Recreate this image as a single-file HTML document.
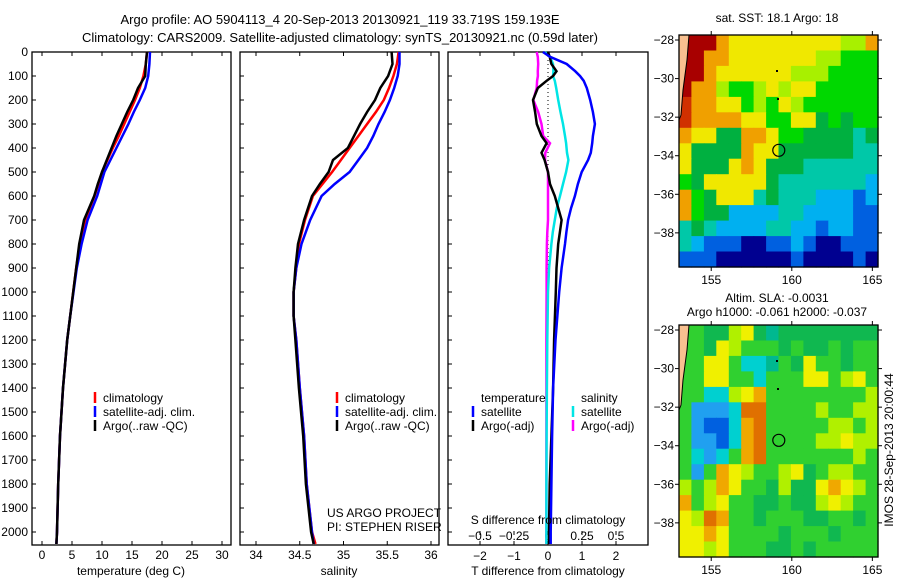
<!DOCTYPE html>
<html><head><meta charset="utf-8"><style>
html,body{margin:0;padding:0;background:#fff}
svg{display:block;font-family:"Liberation Sans",sans-serif;font-size:12px}
</style></head><body>
<svg id="fig" width="900" height="580" viewBox="0 0 900 580">
<text x="340" y="24" text-anchor="middle" font-size="13">Argo profile: AO 5904113_4 20-Sep-2013 20130921_119 33.719S 159.193E</text>
<text x="340" y="42" text-anchor="middle" font-size="13">Climatology: CARS2009. Satellite-adjusted climatology: synTS_20130921.nc (0.59d later)</text>
<g id="p1"></g>
<g id="p2"></g>
<g id="p3"></g>
<g id="m1"></g>
<g id="m2"></g>
<text x="777" y="22" text-anchor="middle">sat. SST: 18.1 Argo: 18</text>
<text x="777" y="302" text-anchor="middle">Altim. SLA: -0.0031</text>
<text x="777" y="316" text-anchor="middle">Argo h1000: -0.061 h2000: -0.037</text>
<text transform="translate(893,450) rotate(-90)" text-anchor="middle">IMOS 28-Sep-2013 20:00:44</text>
</svg>
<script>
const depths=[0,50,100,150,200,250,300,350,400,450,500,550,600,700,800,900,1000,1100,1200,1400,1600,1800,2000,2050];
const tClim=[17.5,17.3,16.9,16.3,15.5,14.6,13.7,12.8,11.8,10.9,10.0,9.4,8.75,7.2,6.3,5.7,5.2,4.7,4.2,3.5,3.0,2.7,2.5,2.4];
const tSat=[18.0,17.9,17.7,17.2,16.3,15.3,14.4,13.4,12.4,11.4,10.4,9.8,9.2,7.6,6.6,5.8,5.25,4.7,4.2,3.5,3.0,2.7,2.5,2.4];
const tArgo=[17.5,17.3,17.2,16.0,15.2,14.2,13.3,12.4,11.6,10.8,10.0,9.3,8.7,7.0,6.2,5.7,5.2,4.7,4.2,3.5,3.0,2.7,2.5,2.4];
const sClim=[35.63,35.61,35.57,35.52,35.46,35.37,35.27,35.17,35.07,34.97,34.87,34.76,34.65,34.56,34.49,34.46,34.43,34.43,34.46,34.5,34.55,34.58,34.64,34.68];
const sSat=[35.64,35.64,35.62,35.58,35.53,35.47,35.4,35.34,35.27,35.17,35.07,34.9,34.75,34.62,34.52,34.46,34.43,34.43,34.46,34.5,34.55,34.58,34.64,34.66];
const sArgo=[35.55,35.56,35.51,35.42,35.36,35.27,35.19,35.12,35.05,34.88,34.83,34.73,34.64,34.55,34.48,34.45,34.43,34.43,34.45,34.49,34.54,34.57,34.63,34.66];
const dDepths=[0,20,50,80,100,120,150,200,250,300,350,380,420,450,500,550,600,650,700,750,800,900,1000,1200,1400,1600,1800,2000,2050];
const dTSat=[-0.15,0.06,0.55,0.8,0.94,1.05,1.14,1.24,1.32,1.38,1.32,1.3,1.26,1.18,0.99,0.88,0.79,0.68,0.59,0.54,0.5,0.4,0.33,0.22,0.15,0.12,0.1,0.08,0.08];
const dTArgo=[0,0.05,0.1,0.25,0.15,-0.04,-0.3,-0.44,-0.38,-0.33,-0.19,-0.04,-0.19,-0.1,0,0.06,0.2,0.3,0.4,0.35,0.3,0.25,0.23,0.18,0.15,0.1,0.05,0.03,0.03];
const dSSat=[-0.022,0.015,0.037,0.04,0.037,0.05,0.06,0.075,0.092,0.11,0.125,0.133,0.14,0.15,0.133,0.11,0.088,0.065,0.05,0.035,0.025,0.008,0,-0.005,-0.008,-0.01,-0.012,-0.012,-0.012];
const dSArgo=[-0.083,-0.075,-0.072,-0.075,-0.074,-0.08,-0.083,-0.108,-0.072,-0.048,-0.035,0.015,-0.02,-0.022,0,0,0,0,0,-0.005,-0.008,-0.01,-0.01,-0.012,-0.012,-0.012,-0.012,-0.012,-0.012];
const depthTicks=[0,100,200,300,400,500,600,700,800,900,1000,1100,1200,1300,1400,1500,1600,1700,1800,1900,2000];
const tTicks=[0,5,10,15,20,25,30];
const sTicks=[34,34.5,35,35.5,36];
const sTickLabels=["34","34.5","35","35.5","36"];
const dTTicks=[-2,-1,0,1,2];
const dSTicks=[-0.5,-0.25,0,0.25,0.5];
const dSTickLabels=["\u22120.5","\u22120.25","0","0.25","0.5"];
const lonTicks=[155,160,165];
const latTicks=[-28,-30,-32,-34,-36,-38];
const argoLon=159.193, argoLat=-33.719;

const NS="http://www.w3.org/2000/svg";
function mk(parent,tag,attrs,text){const e=document.createElementNS(NS,tag);for(const k in attrs)e.setAttribute(k,attrs[k]);if(text!==undefined)e.textContent=text;parent.appendChild(e);return e;}
const Y0=52,Y1=545;
const yD=d=>52+d*0.24;
function lin(d0,d1,r0,r1){return v=>r0+(v-d0)*(r1-r0)/(d1-d0);}
function frame(g,x0,x1,name){
  const r=mk(g,'rect',{x:x0,y:Y0,width:x1-x0,height:Y1-Y0,fill:'none',stroke:'#000','stroke-width':1.3});
  
  
  depthTicks.forEach(d=>{mk(g,'line',{x1:x0,x2:x0+4,y1:yD(d),y2:yD(d),stroke:'#000'});});
}
function xticks(g,ticks,labels,sx,ly,name){
  ticks.forEach((t,i)=>{const x=sx(t);
    mk(g,'line',{x1:x,x2:x,y1:Y1,y2:Y1-4,stroke:'#000'});
    mk(g,'line',{x1:x,x2:x,y1:Y0,y2:Y0+4,stroke:'#000'});
    const tx=mk(g,'text',{x:x,y:ly,'text-anchor':'middle'},labels[i]);
    
    
  });
}
function line(g,xs,ys,sx,color,name,w){
  const pts=xs.map((v,i)=>sx(v).toFixed(1)+','+yD(ys[i]).toFixed(1)).join(' ');
  const p=mk(g,'polyline',{points:pts,fill:'none',stroke:color,'stroke-width':w||2.5});
  
  
}
function legend(g,x,y,color,label,name){
  mk(g,'line',{x1:x,x2:x,y1:y-10,y2:y+1,stroke:color,'stroke-width':2.5});
  const t=mk(g,'text',{x:x+8,y:y},label);
  
  
}
// Panel 1
const p1=document.getElementById('p1');
const sxT=lin(0,30,42,222);
frame(p1,32,231,'temperature');
depthTicks.forEach(d=>{const t=mk(p1,'text',{x:28,y:yD(d)+4,'text-anchor':'end'},String(d));
  
  });
xticks(p1,tTicks,tTicks.map(String),sxT,559,'temperature');
line(p1,tClim,depths,sxT,'#ff0000','temperature-climatology-line');
line(p1,tSat,depths,sxT,'#0000ff','temperature-satellite-line');
line(p1,tArgo,depths,sxT,'#000000','temperature-argo-line');
legend(p1,95,402,'#ff0000','climatology','legend-climatology');
legend(p1,95,416,'#0000ff','satellite-adj. clim.','legend-satellite');
legend(p1,95,430,'#000000','Argo(..raw -QC)','legend-argo');
{const t=mk(p1,'text',{x:131,y:575,'text-anchor':'middle'},'temperature (deg C)');}
// Panel 2
const p2=document.getElementById('p2');
const sxS=lin(34,36,256,431);
frame(p2,240,439,'salinity');
xticks(p2,sTicks,sTickLabels,sxS,559,'salinity');
line(p2,sClim,depths,sxS,'#ff0000','salinity-climatology-line');
line(p2,sSat,depths,sxS,'#0000ff','salinity-satellite-line');
line(p2,sArgo,depths,sxS,'#000000','salinity-argo-line');
legend(p2,337,402,'#ff0000','climatology','legend-climatology-s');
legend(p2,337,416,'#0000ff','satellite-adj. clim.','legend-satellite-s');
legend(p2,337,430,'#000000','Argo(..raw -QC)','legend-argo-s');
{const t=mk(p2,'text',{x:327,y:517},'US ARGO PROJECT');}
{const t=mk(p2,'text',{x:327,y:531},'PI: STEPHEN RISER');}
{const t=mk(p2,'text',{x:339,y:575,'text-anchor':'middle'},'salinity');}
// Panel 3
const p3=document.getElementById('p3');
const sxDT=lin(0,1,548,582);
const sxDS=lin(0,0.25,548,582);
frame(p3,448,648,'difference');
dTTicks.forEach(t=>{const x=sxDT(t);mk(p3,'line',{x1:x,x2:x,y1:Y1,y2:Y1-4,stroke:'#000'});mk(p3,'line',{x1:x,x2:x,y1:Y0,y2:Y0+4,stroke:'#000'});
  const tx=mk(p3,'text',{x:x,y:560,'text-anchor':'middle'},t<0?'\u2212'+(-t):String(t));
  
  });
dSTicks.forEach((t,i)=>{const x=sxDS(t);mk(p3,'line',{x1:x,x2:x,y1:Y1-10,y2:Y1-14,stroke:'#000'});
  const tx=mk(p3,'text',{x:x,y:540,'text-anchor':'middle'},dSTickLabels[i]);
  
  });
mk(p3,'line',{x1:548,x2:548,y1:52,y2:yD(1000),stroke:'#000','stroke-dasharray':'1,3'});
line(p3,dSArgo,dDepths,sxDS,'#ff00ff','s-diff-argo-line');
line(p3,dSSat,dDepths,sxDS,'#00e5e5','s-diff-satellite-line');
line(p3,dTArgo,dDepths,sxDT,'#000000','t-diff-argo-line');
line(p3,dTSat,dDepths,sxDT,'#0000ff','t-diff-satellite-line');
{const t=mk(p3,'text',{x:481,y:402},'temperature');}
{const t=mk(p3,'text',{x:581,y:402},'salinity');}
legend(p3,473,416,'#0000ff','satellite','legend-t-satellite');
legend(p3,473,430,'#000000','Argo(-adj)','legend-t-argo');
legend(p3,573,416,'#00e5e5','satellite','legend-s-satellite');
legend(p3,573,430,'#ff00ff','Argo(-adj)','legend-s-argo');
{const t=mk(p3,'text',{x:548,y:524,'text-anchor':'middle'},'S difference from climatology');}
{const t=mk(p3,'text',{x:548,y:575,'text-anchor':'middle'},'T difference from climatology');}

// Maps
const sstGrid=["kRRoyyyyyyyyyllo","kRooyyyyyyyllggg","kRoyyyyyylllgggg","Roolgglylyyggggg","rooyyglgylgggggg","rooooyyggyyGgGgg","oyyGGooyggGGGGtG","yGGGGoyyGGGGGGtt","yGGGyoyGGGtttttt","gGyyyyyGtttttttc","ogGyyytGtttcccbc","ogGGccccttccccbb","tGtccccttccbccbb","tcbbbnnbbcbnnbbb","bbbnnnnnnbnnnnbn"];
const slaGrid=["kgGGlyGtGGGGGGGG","kgGylgggGgGGgGgg","kgyygcctgGyggGgg","ggyyggcgggyyglyg","ggcclyoggggggggl","gbbbcOOgggglggll","gbBBcoOgggggllgl","gbbBcoOggggllyll","gcbcgoOggggggglg","gbgoylgglyGgllgg","lgloyggGlGGyoylg","oglyggGGgGGlylgg","ylOoggGgggGGggGg","yyoyggggGgggGggg","yylygggGGgGggggg"];
const sstColors={k:'#f8c090',R:'#a80000',r:'#d03000',o:'#f0a000',y:'#f0e800',l:'#a8f000',g:'#00d800',G:'#00b040',t:'#00c8a8',c:'#00b0f0',b:'#0060e0',n:'#000090'};
const slaColors={k:'#f8c090',g:'#30d030',G:'#10b850',y:'#f0f000',l:'#b0f000',o:'#f0a800',O:'#e07000',c:'#00d0d0',b:'#20a0f0',B:'#0060e0',t:'#00b890'};
function drawMap(id,grid,colors,top,name){
  const g=document.getElementById(id);
  const L=679,R=878,B=top+232;
  const lonX=lin(153,165.35,L,R), latY=lin(-27.74,-39.77,top,B);
  const cw=(R-L)/16,ch=(B-top)/15;
  grid.forEach((row,ri)=>{[...row].forEach((c,ci)=>{
    const r=mk(g,'rect',{x:(L+ci*cw).toFixed(1),y:(top+ri*ch).toFixed(1),width:(cw+0.6).toFixed(1),height:(ch+0.6).toFixed(1),fill:colors[c==='k'?(grid[ri][ci+1]||'g'):c]});
    
    
  });});
  const land=mk(g,'polygon',{points:`${L},${top} ${L+10},${top} ${L+8},${top+25} ${L+4},${top+55} ${L+2},${top+80} ${L},${top+85}`,fill:'#f8c090',stroke:'#000','stroke-width':1});
  
  
  mk(g,'rect',{x:776,y:top+35,width:2,height:2,fill:'#000'});
  mk(g,'rect',{x:777,y:top+63,width:2,height:2,fill:'#000'});
  const fr=mk(g,'rect',{x:L,y:top,width:R-L,height:B-top,fill:'none',stroke:'#000','stroke-width':1.3});
  
  
  lonTicks.forEach(lo=>{const x=lonX(lo);mk(g,'line',{x1:x,x2:x,y1:top,y2:top-4,stroke:'#000'});mk(g,'line',{x1:x,x2:x,y1:B,y2:B+4,stroke:'#000'});
    const t=mk(g,'text',{x:x,y:B+17,'text-anchor':'middle'},String(lo));
    
    });
  latTicks.forEach(la=>{const y=latY(la);mk(g,'line',{x1:L,x2:L-4,y1:y,y2:y,stroke:'#000'});mk(g,'line',{x1:R,x2:R+4,y1:y,y2:y,stroke:'#000'});
    const t=mk(g,'text',{x:L-5,y:y+4,'text-anchor':'end'},'\u2212'+(-la));
    
    });
  const c=mk(g,'circle',{cx:lonX(argoLon),cy:latY(argoLat),r:6,fill:'none',stroke:'#000','stroke-width':1.2});
  
  
}
drawMap('m1',sstGrid,sstColors,35,'sst-map');
drawMap('m2',slaGrid,slaColors,325,'sla-map');
</script>
</body></html>
